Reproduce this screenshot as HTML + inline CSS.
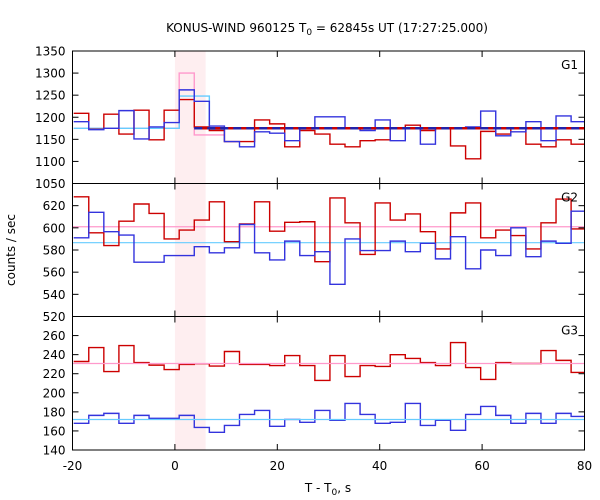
<!DOCTYPE html>
<html><head><meta charset="utf-8"><style>
html,body{margin:0;padding:0;background:#fff;}
svg{display:block;font-family:"DejaVu Sans","Liberation Sans",sans-serif;}
</style></head><body>
<svg id="chart" width="600" height="500" viewBox="0 0 600 500" xmlns="http://www.w3.org/2000/svg">
<text x="327" y="32" font-size="12" text-anchor="middle">KONUS-WIND 960125 T<tspan font-size="9" dy="3">0</tspan><tspan dy="-3"> = 62845s UT (17:27:25.000)</tspan></text>
<text x="15" y="250" font-size="12" text-anchor="middle" transform="rotate(-90 15 250)">counts / sec</text>
<text x="328" y="492" font-size="12" text-anchor="middle">T - T<tspan font-size="9" dy="3">0</tspan><tspan dy="-3">, s</tspan></text>
<g id="layer"></g>
</svg>
<script>
// bin layout (data): first bin start and width in seconds
const binStart = 0.84 - 7*2.944;
const binWidth = 2.944;
const xTicks = [-20, 0, 20, 40, 60, 80];
const shadeRange = [0, 6];
// G1
const g1Red = [1209,1173,1207,1162,1216,1149,1216,1240,1178,1170,1145,1145,1194,1185,1133,1170,1162,1139,1133,1147,1149,1175,1182,1170,1175,1135,1106,1168,1162,1175,1139,1133,1149,1139];
const g1Blue = [1190,1172,1175,1215,1151,1178,1188,1262,1236,1180,1145,1133,1167,1164,1147,1175,1201,1201,1175,1170,1194,1147,1175,1139,1175,1175,1178,1214,1158,1167,1190,1147,1203,1190];
const g1Pink = [1175,1175,1175,1175,1175,1175,1175,1300,1160,1160];
const g1Cyan = [1175,1175,1175,1175,1175,1175,1175,1248,1248,1172];
const g1Bg = 1175;
const g1Ticks = [1050,1100,1150,1200,1250,1300,1350];
// G2
const g2Red = [628,595.5,584,606,621.5,613,590,598,607,623.5,587.5,603.5,623.5,597,605,605.5,569.5,627,604.5,576,622.5,607,612.5,596.5,581,613.5,622.5,591,598,593,581,604.5,626,599];
const g2Blue = [591,614,596.5,593.5,569,569,575,575,583,577.5,582,603,577.5,571,588,575,578.5,549,590,579.5,579.5,588,578.5,586,572,592,563,580,575,600,574,588,586,615];
const g2Pink = 601;
const g2Cyan = 586.6;
const g2Ticks = [520,540,560,580,600,620];
// G3
const g3Red = [232.8,247.4,222.3,249.5,231.7,229,224.4,229.7,230.5,228,243.3,229.7,229.7,228.6,239,228.6,213,239,217,228.6,227.6,240,236,231.7,228.6,252.7,226.5,214,231.7,230.7,230.7,244.3,234,221.3];
const g3Blue = [168,176.3,178.4,168,176.3,173.2,173.2,176.3,163.7,158.5,165.8,177.3,181.5,164.8,172,169,181.5,171.1,188.8,177.3,168,169,188.8,165.8,171.1,160.6,177.3,185.7,176.3,168,178.4,168,178.4,175.2];
const g3Pink = 230.7;
const g3Cyan = 172;
const g3Ticks = [140,160,180,200,220,240,260];

const NS = "http://www.w3.org/2000/svg";
const L = 72.5, R = 584.5;
const X = v => L + (v + 20) / 100 * (R - L);
const layer = document.getElementById('layer');
function mk(tag, attrs, parent) {
  const e = document.createElementNS(NS, tag);
  for (const k in attrs) e.setAttribute(k, attrs[k]);
  (parent || layer).appendChild(e);
  return e;
}
const panels = [
  {name:'g1', top:51, bot:183.5, min:1050, max:1350, ticks:g1Ticks, label:'G1'},
  {name:'g2', top:183.5, bot:316.5, min:520, max:640, ticks:g2Ticks, label:'G2'},
  {name:'g3', top:316.5, bot:450, min:140, max:280, ticks:g3Ticks, label:'G3'}
];
const defs = mk('defs', {});
panels.forEach(p => {
  p.Y = v => p.bot - (v - p.min) / (p.max - p.min) * (p.bot - p.top);
  const cp = mk('clipPath', {id: 'clip-' + p.name}, defs);
  mk('rect', {x: L, y: p.top, width: R - L, height: p.bot - p.top}, cp);
});
function stepPath(vals, Y) {
  let d = '';
  vals.forEach((v, i) => {
    const x0 = X(binStart + i * binWidth), x1 = X(binStart + (i + 1) * binWidth);
    const y = Y(v);
    d += (i === 0 ? 'M' + x0 + ',' + y : 'L' + x0 + ',' + y) + 'L' + x1 + ',' + y;
  });
  return d;
}
function drawPanel(p, series) {
  const g = mk('g', {'clip-path': 'url(#clip-' + p.name + ')'});
  
  
  const sh = mk('rect', {x: X(shadeRange[0]), y: p.top, width: X(shadeRange[1]) - X(shadeRange[0]), height: p.bot - p.top, fill: '#feeef0'}, g);
  
  
  series.forEach(s => {
    let el;
    if (Array.isArray(s.vals)) {
      el = mk('path', {d: stepPath(s.vals, p.Y), fill: 'none', stroke: s.color, 'stroke-width': s.w || 1.4}, g);
    } else {
      const y = p.Y(s.vals);
      el = mk('line', {x1: s.from !== undefined ? X(s.from) : L, x2: R, y1: y, y2: y, stroke: s.color, 'stroke-width': s.w || 1.2, 'stroke-dasharray': s.dash || 'none'}, g);
    }
    
    
  });
  const fr = mk('rect', {x: L, y: p.top, width: R - L, height: p.bot - p.top, fill: 'none', stroke: '#000', 'stroke-width': 1});
  
  
  p.ticks.forEach(t => {
    const y = p.Y(t);
    mk('line', {x1: L, x2: L + 6, y1: y, y2: y, stroke: '#000'});
    mk('line', {x1: R - 6, x2: R, y1: y, y2: y, stroke: '#000'});
    const tx = mk('text', {x: L - 7, y: y + 4.5, 'font-size': 12, 'text-anchor': 'end'});
    tx.textContent = t;
    
    
  });
  xTicks.forEach(t => {
    const x = X(t);
    mk('line', {x1: x, x2: x, y1: p.top, y2: p.top + 6, stroke: '#000'});
    mk('line', {x1: x, x2: x, y1: p.bot - 6, y2: p.bot, stroke: '#000'});
  });
  const lb = mk('text', {x: 578, y: p.top + 18, 'font-size': 12, 'text-anchor': 'end'});
  lb.textContent = p.label;
  
  
}
drawPanel(panels[0], [
  {vals: g1Pink, color: '#ff99cc', name: 'g1-pink-fit'},
  {vals: g1Cyan, color: '#66ccff', name: 'g1-cyan-fit'},
  {vals: g1Red, color: '#cc0000', name: 'g1-red-series'},
  {vals: g1Blue, color: '#3333dd', name: 'g1-blue-series'},
  {vals: g1Bg, color: '#cc0000', w: 2.5, from: 3.78, name: 'g1-background-red'},
  {vals: g1Bg, color: '#2222aa', w: 2.5, from: 3.78, dash: '8,5', name: 'g1-background-dashed'}
]);
drawPanel(panels[1], [
  {vals: g2Pink, color: '#ff99cc', name: 'g2-pink-fit'},
  {vals: g2Cyan, color: '#66ccff', name: 'g2-cyan-fit'},
  {vals: g2Red, color: '#cc0000', name: 'g2-red-series'},
  {vals: g2Blue, color: '#3333dd', name: 'g2-blue-series'}
]);
drawPanel(panels[2], [
  {vals: g3Red, color: '#cc0000', name: 'g3-red-series'},
  {vals: g3Blue, color: '#3333dd', name: 'g3-blue-series'},
  {vals: g3Pink, color: '#ff99cc', name: 'g3-pink-fit'},
  {vals: g3Cyan, color: '#66ccff', name: 'g3-cyan-fit'}
]);
xTicks.forEach(t => {
  const tx = mk('text', {x: X(t), y: 470, 'font-size': 12, 'text-anchor': 'middle'});
  tx.textContent = t;
  
  
});
</script>
</body></html>
